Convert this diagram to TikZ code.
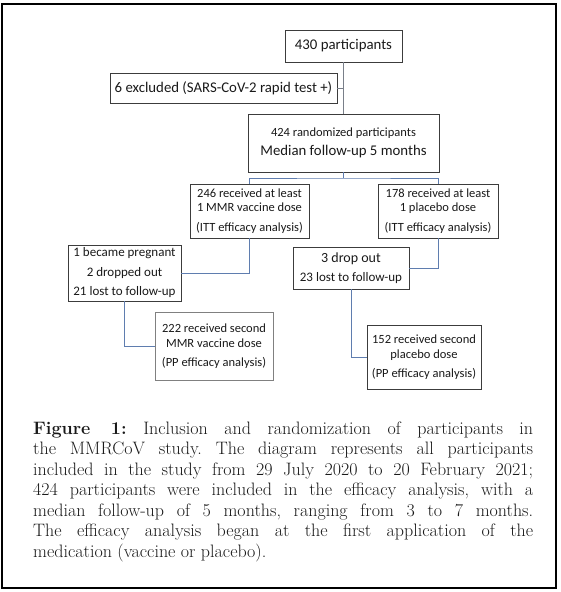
\documentclass[tikz,border=0pt]{standalone}
\usepackage{fontspec}
\setmainfont{Latin Modern Roman}
\newfontfamily\boxfont{Carlito}
\definecolor{lnblue}{RGB}{95,125,175}
\definecolor{bxgray}{RGB}{60,60,60}
\definecolor{txt}{RGB}{25,25,25}
\frenchspacing
\begin{document}
\begin{tikzpicture}[x=1pt,y=-1pt,
  box/.style={draw=bxgray,line width=0.8pt,rectangle,inner sep=0pt,align=center,
    font=\boxfont\fontsize{12.5}{14.5}\selectfont,text=txt},
  big/.style={font=\boxfont\fontsize{14.8}{16}\selectfont},
  mid/.style={font=\boxfont\fontsize{13}{14}\selectfont},
  conn/.style={draw=lnblue,line width=0.6pt}]
\useasboundingbox (0,0) rectangle (561,592);
\draw[line width=1.1pt] (2,4) rectangle (556,588);

\node[box,big,minimum width=117pt,minimum height=32pt] (b1) at (343.5,46) {430 participants};
\node[box,big,minimum width=227pt,minimum height=30pt] (b2) at (223.5,88) {6 excluded (SARS-CoV-2 rapid test +)};
\node[box,minimum width=191pt,minimum height=58pt] (b3) at (343.5,143) {{\fontsize{12.5}{14}\selectfont 424 randomized participants}\\[4pt]{\fontsize{14.8}{16}\selectfont Median follow-up 5 months}};
\node[box,minimum width=119pt,minimum height=54pt] (b4) at (249.5,211) {246 received at least\\1 MMR vaccine dose\\[5pt](ITT efficacy analysis)};
\node[box,minimum width=120pt,minimum height=54pt] (b5) at (438,211) {178 received at least\\1 placebo dose\\[5pt](ITT efficacy analysis)};
\node[box,mid,minimum width=113pt,minimum height=56pt] (b6) at (124.5,273) {1 became pregnant\\[5.5pt]2 dropped out\\[5.5pt]21 lost to follow-up};
\node[box,mid,minimum width=116pt,minimum height=42pt] (b7) at (351,268) {{\fontsize{14}{15}\selectfont 3 drop out}\\[5pt]23 lost to follow-up};
\node[box,draw=gray,minimum width=118pt,minimum height=68pt] (b8) at (214,346) {222 received second\\MMR vaccine dose\\[4.5pt](PP efficacy analysis)};
\node[box,minimum width=114pt,minimum height=64pt] (b9) at (424,357) {152 received second\\placebo dose\\[4.5pt](PP efficacy analysis)};

\coordinate (split) at (343.5,178);
\draw[conn,draw=gray!80!lnblue] (b1.south) -- (b3.north);
\draw[conn,draw=gray!80!lnblue] (b2.east) -- (b2.east -| b1.south);
\draw[conn] (b3.south) -- (split);
\draw[conn] (b4.north) |- (split) -| (b5.north);
\draw[conn] (b4.south) |- (b6.east);
\draw[conn] (b5.south) |- (b7.east);
\draw[conn] (b6.south) |- (b8.west);
\draw[conn] (b7.south) |- (b9.west);

\node[anchor=base west,inner sep=0pt,text width=500pt,align=justify,
  font=\fontsize{18}{20.5}\selectfont,text=txt] (cap) at (33,434)
 {\textbf{Figure 1:} Inclusion and randomization of participants in\linebreak
  the MMRCoV study. The diagram represents all participants\linebreak
  included in the study from 29 July 2020 to 20 February 2021;\linebreak
  424 participants were included in the efficacy analysis, with a\linebreak
  median follow-up of 5 months, ranging from 3 to 7 months.\linebreak
  The efficacy analysis began at the first application of the\linebreak
  medication (vaccine or placebo).};
\end{tikzpicture}
\end{document}
